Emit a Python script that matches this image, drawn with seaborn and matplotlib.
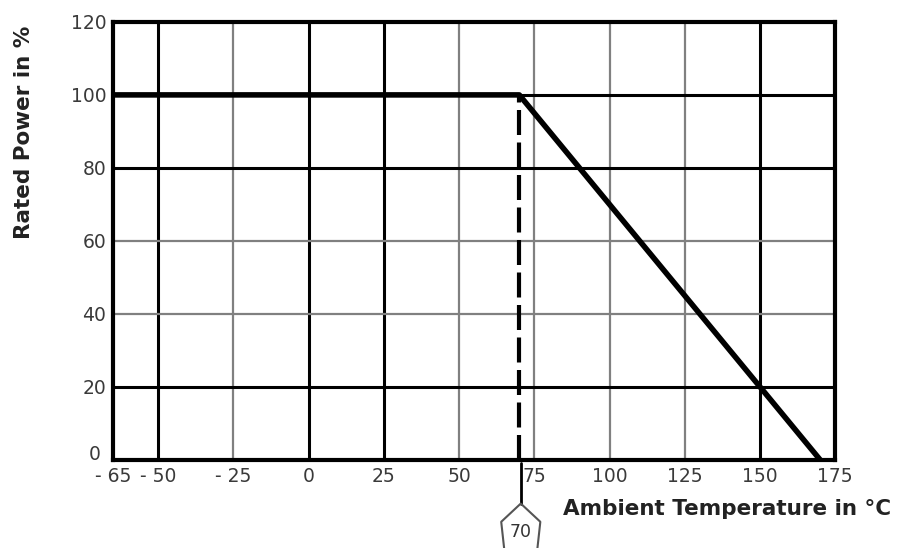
import matplotlib
matplotlib.use("Agg")
import matplotlib.pyplot as plt
import matplotlib.transforms as mtransforms
import seaborn as sns
import pandas as pd

# Curva de derating
temperatura = [-65, 70, 170]
potencia = [100, 100, 0]

# Linha tracejada em 70 °C
temp_joelho = [70, 70]
pot_joelho = [0, 100]

x_ticks = [-65, -50, -25, 0, 25, 50, 75, 100, 125, 150, 175]
x_labels = ["- 65", "- 50", "- 25", "0", "25", "50", "75", "100", "125", "150", "175"]
y_ticks = [0, 20, 40, 60, 80, 100, 120]

sns.set_style("white")
plt.rcParams['font.family'] = ['DejaVu Sans']

fig = plt.figure(figsize=(8.98, 5.48), dpi=100)
ax = fig.add_axes([0.126, 0.161, 0.804, 0.799])

# grade: algumas linhas pretas, outras cinzas
linhas_pretas_x = {-50, 0, 25, 150}
linhas_pretas_y = {20, 80, 100}
for v in x_ticks[1:-1]:
    escura = v in linhas_pretas_x
    ax.axvline(v, color="black" if escura else "#808080", lw=2.2 if escura else 1.6, zorder=1)
for v in y_ticks[1:-1]:
    escura = v in linhas_pretas_y
    ax.axhline(v, color="black" if escura else "#808080", lw=2.2 if escura else 1.6, zorder=1)

df = pd.DataFrame({"temp": temperatura, "pot": potencia})
sns.lineplot(data=df, x="temp", y="pot", color="black", lw=4, ax=ax, zorder=3)
ax.plot(temp_joelho, pot_joelho, color="black", lw=3, ls=(0, (6, 1.8)), zorder=2)

ax.set_xlim(-64, 175)
ax.set_ylim(0, 120)
ax.set_xticks(x_ticks)
ax.set_xticklabels(x_labels)
ax.set_yticks(y_ticks)
ax.tick_params(length=0, labelsize=13.5, colors="#3a3a3a", pad=5)
for s in ax.spines.values():
    s.set_color("black")
    s.set_linewidth(3)
    s.set_zorder(4)

# o "0" do eixo y fica um pouco acima
zero = ax.get_yticklabels()[0]
zero.set_transform(zero.get_transform() + mtransforms.ScaledTranslation(-4 / 72, 5 / 72, fig.dpi_scale_trans))

ax.set_xlabel("")
ax.set_ylabel("")
fig.text(0.027, 0.758, "Rated Power in %", rotation=90, ha="center", va="center",
         fontsize=15.5, fontweight="bold", color="#222222")
fig.text(0.992, 0.072, "Ambient Temperature in °C", ha="right", va="center",
         fontsize=15.5, fontweight="bold", color="#222222")

# marcador do 70 abaixo do eixo
ax.plot([70.5, 70.5], [-1, -12], color="black", lw=2, clip_on=False)
ax.plot([65, 64, 70.5, 77, 76], [-24.5, -17, -12, -17, -24.5], color="#555555", lw=1.5, clip_on=False)
ax.text(70.5, -19.8, "70", ha="center", va="center", fontsize=12.5, color="#333333", clip_on=False)

fig.savefig("out.png", dpi=100)
